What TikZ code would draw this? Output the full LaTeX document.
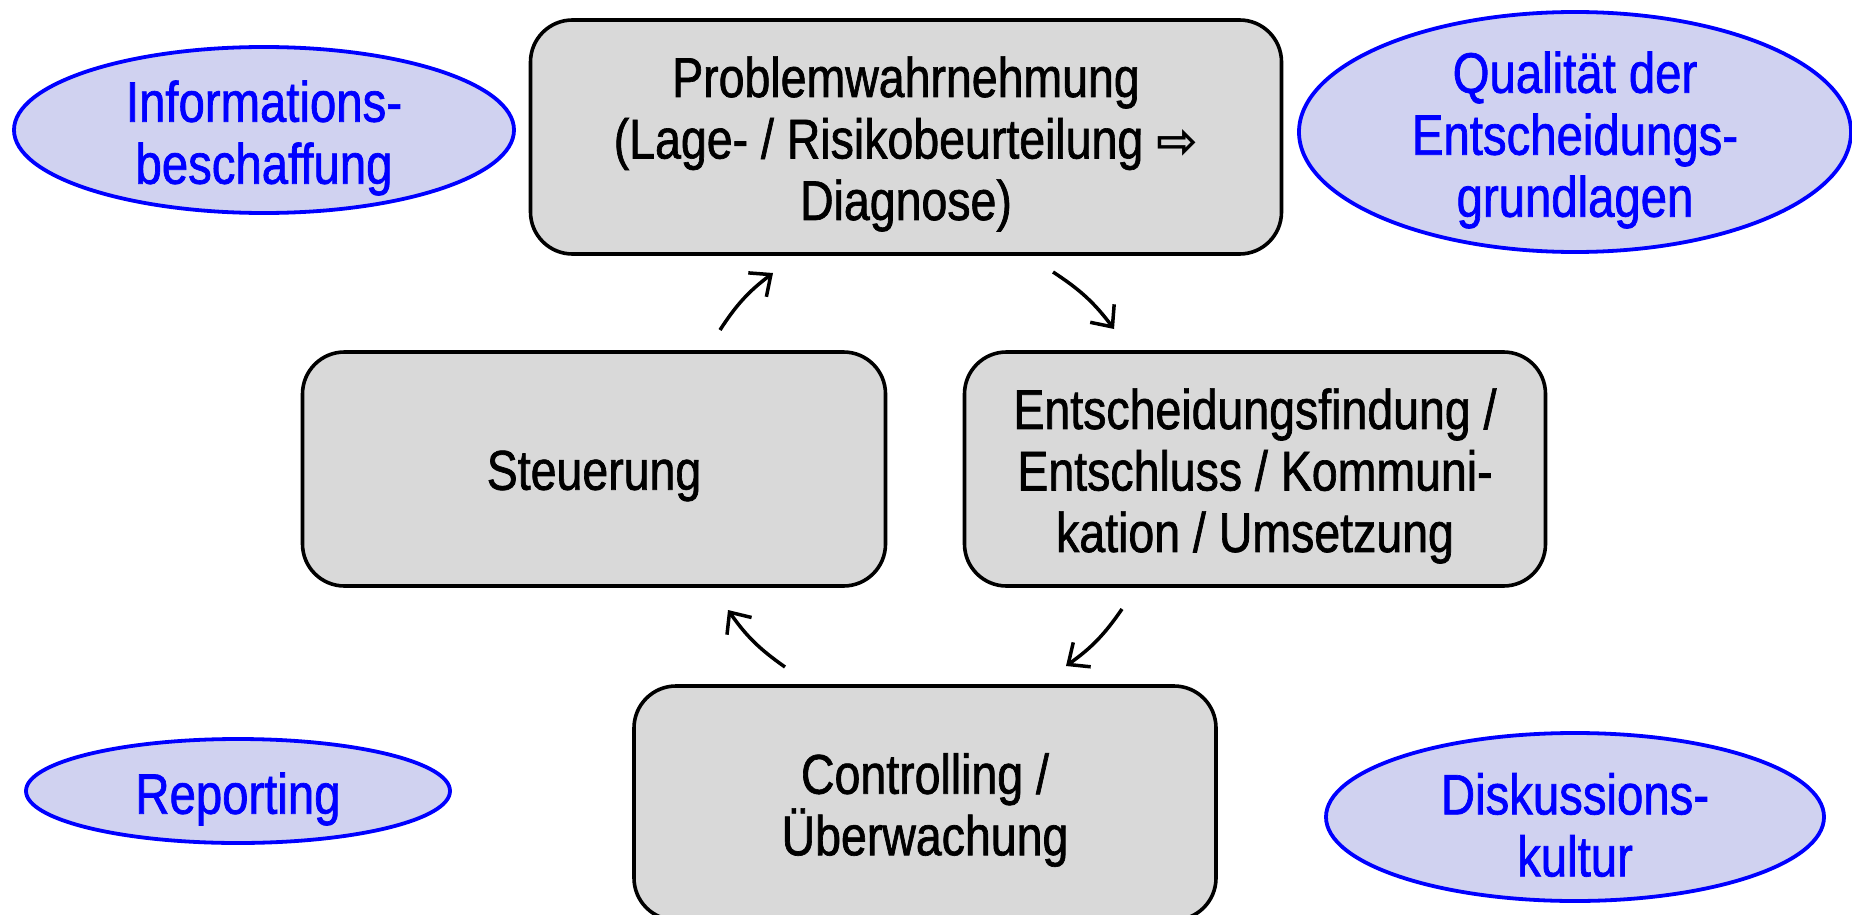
\documentclass[tikz,border=0pt]{standalone}
\usepackage{fontspec}
\setmainfont{Liberation Sans}[FakeStretch=0.83,FakeBold=1.2]
\newfontfamily\symfont{DejaVu Sans Bold}
\usetikzlibrary{arrows.meta}
\definecolor{boxgray}{HTML}{D9D9D9}
\definecolor{ovalfill}{HTML}{D0D2F0}
\definecolor{ovalblue}{HTML}{0000FF}
\tikzset{
  box/.style={draw=black, line width=3.6pt, fill=boxgray, rounded corners=42pt,
    align=center, inner sep=0pt},
  boxtext/.style={align=center, inner sep=0pt, yshift=-7pt, font=\fontsize{56}{61.5}\selectfont},
  ovalline/.style={draw=ovalblue, line width=3.8pt, fill=ovalfill},
  ovaltext/.style={text=ovalblue, align=center, inner sep=0pt, yshift=-8pt, font=\fontsize{57}{62}\selectfont},
  flow/.style={line width=3.5pt, -{Straight Barb[length=17pt,width=30pt,line width=3.5pt]}, bend left=10}
}
\begin{document}
\begin{tikzpicture}[x=1pt,y=-1pt]
\useasboundingbox (0,0) rectangle (1852,915);
\clip (0,0) rectangle (1852,915);
% boxes
\node[box, minimum width=751pt, minimum height=234pt] (prob) at (906,137) {};
\node[boxtext] (probt) at (prob.center)
  {Problemwahrnehmung\\(Lage- / Risikobeurteilung {\symfont\fontsize{50}{50}\selectfont ⇨}\\Diagnose)};
\node[box, minimum width=583pt, minimum height=234pt] (steu) at (594,469) {};
\node[boxtext] (steut) at (steu.center) {Steuerung};
\node[box, minimum width=581pt, minimum height=234pt] (ents) at (1255,469) {};
\node[boxtext] (entst) at (ents.center)
  {Entscheidungsfindung /\\Entschluss / Kommuni-\\kation / Umsetzung};
\node[box, minimum width=582pt, minimum height=234pt] (ctrl) at (925,803) {};
\node[boxtext] (ctrlt) at (ctrl.center) {Controlling /\\Überwachung};
% ellipses
\draw[ovalline] (264,130) ellipse [x radius=250, y radius=83];
\node[ovaltext] (info) at (264,130) {Informations-\\beschaffung};
\draw[ovalline] (1575,132) ellipse [x radius=276, y radius=120];
\node[ovaltext] (qual) at (1575,132) {Qualität der\\Entscheidungs-\\grundlagen};
\draw[ovalline] (238,791) ellipse [x radius=212, y radius=52];
\node[ovaltext] (rep) at (238,791) {Reporting};
\draw[ovalline] (1575,817) ellipse [x radius=249, y radius=84];
\node[ovaltext] (disk) at (1575,817) {Diskussions-\\kultur};
% arrows
\coordinate (a1s) at (720,330); \coordinate (a1e) at (773,273);
\coordinate (a2s) at (1053,272); \coordinate (a2e) at (1114,329);
\coordinate (a3s) at (1122,609); \coordinate (a3e) at (1066,666);
\coordinate (a4s) at (785,667); \coordinate (a4e) at (728,610);
\draw[flow] (a1s) to (a1e);
\draw[flow] (a2s) to (a2e);
\draw[flow] (a3s) to (a3e);
\draw[flow] (a4s) to (a4e);
\end{tikzpicture}
\end{document}
